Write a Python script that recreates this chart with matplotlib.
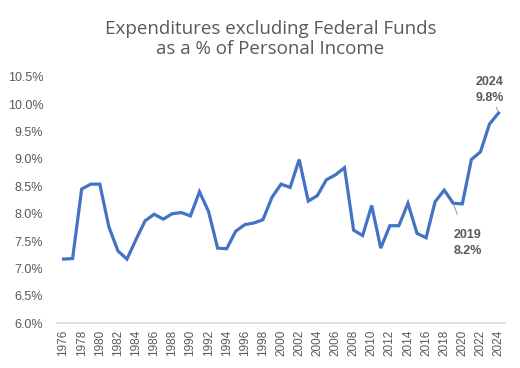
import matplotlib
matplotlib.use("Agg")
import matplotlib.pyplot as plt
from matplotlib.ticker import FuncFormatter, MultipleLocator

# --- DATA ---
years = list(range(1976, 2025))
pct = [7.17, 7.18, 8.45, 8.54, 8.54, 7.76, 7.32, 7.17, 7.53, 7.87,
       7.99, 7.90, 8.00, 8.02, 7.96, 8.40, 8.04, 7.37, 7.36, 7.68,
       7.80, 7.83, 7.89, 8.30, 8.54, 8.48, 8.99, 8.23, 8.33, 8.62,
       8.71, 8.84, 7.70, 7.60, 8.15, 7.37, 7.78, 7.78, 8.19, 7.64,
       7.56, 8.22, 8.43, 8.19, 8.18, 8.99, 9.13, 9.64, 9.84]
tick_years = list(range(1976, 2025, 2))

title = "Expenditures excluding Federal Funds\nas a % of Personal Income"
LINE_COLOR = "#4472C4"
TEXT_GRAY = "#595959"

plt.rcParams['font.family'] = ['Liberation Sans', 'DejaVu Sans']

fig = plt.figure(figsize=(5.2, 3.68), dpi=100)
ax = fig.add_axes([0.11, 0.122, 0.861, 0.669])

ax.plot(years, pct, color=LINE_COLOR, linewidth=2.3, solid_joinstyle='miter')

ax.set_ylim(6.0, 10.5)
ax.set_xlim(1975.3, 2024.7)
ax.yaxis.set_major_locator(MultipleLocator(0.5))
ax.yaxis.set_major_formatter(FuncFormatter(lambda v, p: f"{v:.1f}%"))
ax.set_xticks(tick_years)
ax.set_xticklabels([str(y) for y in tick_years], rotation=90)

for s in ['top', 'right', 'left']:
    ax.spines[s].set_visible(False)
ax.spines['bottom'].set_color('#D9D9D9')
ax.spines['bottom'].set_linewidth(1.2)
ax.tick_params(axis='both', length=0, colors=TEXT_GRAY, labelsize=8.5)
ax.tick_params(axis='y', pad=10, labelsize=9)
ax.tick_params(axis='x', pad=5)

# title in a narrower sans, closer to the original
fig.text(0.52, 0.947, title, ha='center', va='top', fontsize=13.5,
         color=TEXT_GRAY, linespacing=1.2, family=['Open Sans', 'DejaVu Sans'])

# annotations
i19 = years.index(2019)
ax.annotate(f"2019\n{pct[i19]:.1f}%", xy=(years[i19], pct[i19]),
            xytext=(2020.6, 7.46), ha='center', va='center',
            fontsize=9, fontweight='bold', color=TEXT_GRAY, linespacing=1.45,
            arrowprops=dict(arrowstyle='-', color='#A6A6A6', lw=0.8,
                            shrinkA=9, shrinkB=1))
i24 = years.index(2024)
ax.annotate(f"2024\n{pct[i24]:.1f}%", xy=(years[i24], pct[i24]),
            xytext=(2023.0, 10.26), ha='center', va='center',
            fontsize=9, fontweight='bold', color=TEXT_GRAY, linespacing=1.45,
            arrowprops=dict(arrowstyle='-', color='#A6A6A6', lw=0.8,
                            shrinkA=10, shrinkB=1))

fig.savefig("out.png", dpi=100)
